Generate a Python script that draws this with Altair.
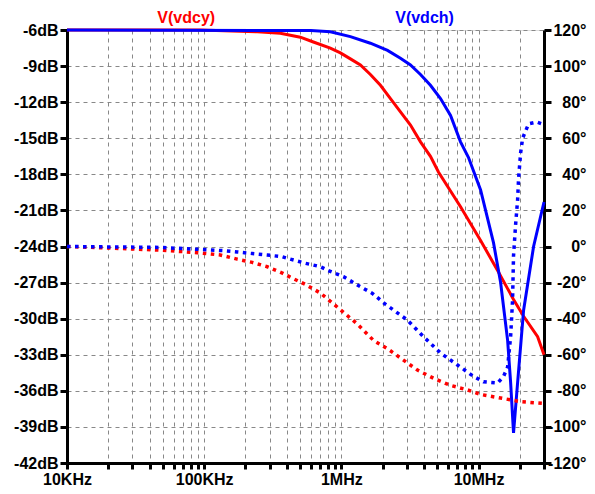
import altair as alt
import pandas as pd

# ---- data ----
series_names = ["V(vdcy)", "V(vdch)"]
series_colors = ["#ff0000", "#0000ff"]

# magnitude (dB), V(vdcy)
red_mag_f = [1e4, 93.5e3, 244e3, 359e3, 502e3, 625e3, 831e3, 984e3, 1.164e6, 1.377e6,
             1.628e6, 1.927e6, 2.28e6, 2.697e6, 3.19e6, 3.774e6, 4.46e6, 5.1e6, 7.39e6,
             10.35e6, 13.77e6, 17.99e6, 21.3e6, 26.96e6, 30e6]
red_mag_db = [-6.0, -6.0, -6.15, -6.27, -6.6, -7.0, -7.5, -7.9, -8.4, -8.9,
              -9.7, -10.6, -11.7, -12.8, -13.9, -15.3, -16.5, -17.8, -20.7,
              -23.5, -26.0, -28.4, -29.8, -31.5, -33.0]

# magnitude (dB), V(vdch)
blue_mag_f = [1e4, 600e3, 831e3, 1.164e6, 1.628e6, 2.17e6, 2.697e6, 3.19e6, 3.774e6,
              4.46e6, 5.28e6, 6.25e6, 7.39e6, 8.45e6, 10.35e6, 12.86e6, 14.48e6,
              16.29e6, 17.13e6, 17.99e6, 19.27e6, 21.3e6, 25.19e6, 30e6]
blue_mag_db = [-6.0, -6.05, -6.15, -6.55, -7.1, -7.7, -8.35, -8.9, -9.7,
               -10.6, -11.7, -13.1, -15.3, -16.6, -19.3, -23.7, -27.0,
               -31.8, -35.3, -39.5, -35.3, -29.3, -24.0, -20.3]

# phase (deg), V(vdcy)
red_ph_f = [1e4, 19.6e3, 47.7e3, 89e3, 131e3, 174e3, 224e3, 288e3, 371e3, 424e3, 546e3,
            703e3, 860e3, 1.07e6, 1.309e6, 1.713e6, 2.203e6, 2.836e6, 3.589e6, 4.69e6,
            6.25e6, 8.31e6, 10.35e6, 14.48e6, 20.27e6, 30e6]
red_ph_deg = [0, -0.8, -2, -3.4, -4.7, -7, -8.8, -11.2, -14.7, -17, -21,
              -25.8, -31.3, -37.4, -43, -52, -57, -63, -68.5, -73,
              -77, -79.5, -82, -84, -86, -87]

# phase (deg), V(vdch)
blue_ph_f = [1e4, 47.7e3, 138e3, 174e3, 224e3, 288e3, 371e3, 424e3, 546e3, 703e3, 804e3,
             1.035e6, 1.309e6, 1.683e6, 2.094e6, 3.034e6, 3.97e6, 5.28e6, 7.03e6, 9.2e6,
             10.87e6, 13.77e6, 15.22e6, 16.29e6, 17.13e6, 17.7e6, 17.99e6, 18.62e6,
             19.27e6, 19.59e6, 20.27e6, 20.96e6, 22.03e6, 23.17e6, 26.5e6, 30e6]
blue_ph_deg = [0, -0.5, -2.3, -3, -3.9, -4.7, -5.7, -7, -9.3, -11.2, -13.4,
               -16.7, -21.3, -26, -32, -40.8, -50, -59, -65.7, -72,
               -75, -75.7, -72, -66.8, -50, -29.7, -5, 12,
               26, 38, 52, 60, 64, 68, 69, 67.5]

# label positions for the trace names
title_f = [74e3, 4.04e6]

# axis ticks
x_ticks = [m * 10 ** e for e in range(4, 7) for m in range(1, 10)] + [1e7, 2e7, 3e7]
x_decades = [1e4, 1e5, 1e6, 1e7]
x_decade_labels = ["10KHz", "100KHz", "1MHz", "10MHz"]
db_ticks = [-42, -39, -36, -33, -30, -27, -24, -21, -18, -15, -12, -9, -6]
deg_ticks = [-120, -100, -80, -60, -40, -20, 0, 20, 40, 60, 80, 100, 120]

# ---- tables ----
mag = pd.concat([
    pd.DataFrame({"f": red_mag_f, "v": red_mag_db, "series": series_names[0]}),
    pd.DataFrame({"f": blue_mag_f, "v": blue_mag_db, "series": series_names[1]}),
])
ph = pd.concat([
    pd.DataFrame({"f": red_ph_f, "v": red_ph_deg, "series": series_names[0]}),
    pd.DataFrame({"f": blue_ph_f, "v": blue_ph_deg, "series": series_names[1]}),
])
titles = pd.DataFrame({"f": title_f, "series": series_names})

FONT = "Liberation Sans"
label_expr = " : ".join(
    f"datum.value == {v} ? '{l}'" for v, l in zip(x_decades, x_decade_labels)
) + " : ''"

xenc = alt.X(
    "f:Q",
    scale=alt.Scale(type="log", domain=[1e4, 3e7], nice=False),
    axis=alt.Axis(
        values=x_ticks, labelExpr=label_expr, title=None,
        grid=True, gridDash=[4, 4], gridColor="#888888", gridWidth=1,
        tickSize=6, tickWidth=3, tickColor="black",
        domainWidth=3, domainColor="black",
        labelFont=FONT, labelFontSize=16, labelFontWeight="bold", labelColor="black",
        labelBaseline="alphabetic", labelPadding=15, labelFlush=False, labelOverlap=False,
    ),
)
color = alt.Color("series:N", scale=alt.Scale(domain=series_names, range=series_colors), legend=None)

mag_layer = alt.Chart(mag).mark_line(strokeWidth=3).encode(
    x=xenc,
    y=alt.Y(
        "v:Q",
        scale=alt.Scale(domain=[-42, -6], nice=False, zero=False),
        axis=alt.Axis(
            orient="left", values=db_ticks, labelExpr="datum.value + 'dB'", title=None,
            grid=True, gridDash=[4, 4], gridColor="#888888", gridWidth=1,
            tickSize=7, tickWidth=3, tickColor="black",
            domainWidth=3, domainColor="black",
            labelFont=FONT, labelFontSize=16, labelFontWeight="bold", labelColor="black",
            labelPadding=2, labelOverlap=False, labelFlush=False,
        ),
    ),
    color=color,
)

ph_layer = alt.Chart(ph).mark_line(strokeWidth=3.5, strokeDash=[3.5, 4.5]).encode(
    x=xenc,
    y=alt.Y(
        "v:Q",
        scale=alt.Scale(domain=[-120, 120], nice=False, zero=False),
        axis=alt.Axis(
            orient="right", values=deg_ticks, labelExpr="datum.value + '°'", title=None,
            grid=False, tickSize=7, tickWidth=3, tickColor="black",
            domainWidth=3, domainColor="black",
            labelFont=FONT, labelFontSize=16, labelFontWeight="bold", labelColor="black",
            labelAlign="right", labelPadding=35, labelOverlap=False, labelFlush=False,
        ),
    ),
    color=color,
)

title_layer = alt.Chart(titles).mark_text(
    font=FONT, fontSize=16, fontWeight="bold", baseline="middle", align="center"
).encode(
    x=alt.X("f:Q"),
    y=alt.value(-12),
    text="series:N",
    color=color,
)

chart = alt.layer(mag_layer, ph_layer, title_layer).resolve_scale(y="independent").properties(
    width=477, height=433,
    autosize=alt.AutoSizeParams(type="none"),
    padding={"left": 59, "top": 22, "right": 43, "bottom": 23},
).configure_view(stroke="black", strokeWidth=3).configure(background="white")

chart.save("out.html", embed_options={"renderer": "svg", "actions": False})
